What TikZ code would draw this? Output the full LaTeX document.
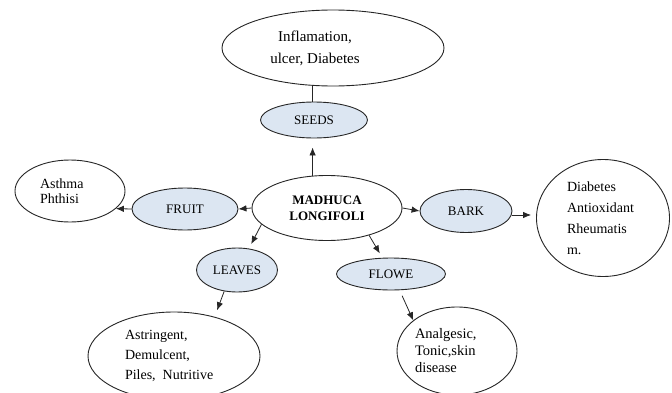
\documentclass[tikz,border=0pt]{standalone}
\usepackage{fontspec}
\setmainfont{Liberation Serif}
\usetikzlibrary{shapes.geometric,arrows.meta}
\definecolor{partblue}{RGB}{220,230,242}
\colorlet{edge}{black!85}
\tikzset{>={Latex[length=8pt,width=6.5pt]}}
\tikzset{
  part/.style = {ellipse, draw=edge, line width=0.9pt, fill=partblue,
    inner sep=0pt, font=\fontsize{13}{15}\selectfont},
  uses/.style = {ellipse, draw=edge, line width=0.9pt, fill=white,
    inner sep=0pt, align=left},
  link/.style = {->, line width=0.8pt, edge}
}

\begin{document}
\begin{tikzpicture}[x=1pt,y=1pt]
  \useasboundingbox (0,0) rectangle (672,392);
  % centre
  \node[uses, align=center, minimum width=150, minimum height=65,
    font=\bfseries\fontsize{13}{16}\selectfont] (madhuca) at (327,184) {MADHUCA\\LONGIFOLI};
  % plant parts
  \node[part, minimum width=107, minimum height=36] (seeds) at (314,272) {SEEDS};
  \node[part, minimum width=92, minimum height=43] (bark) at (466,181) {BARK};
  \node[part, minimum width=106, minimum height=42] (fruit) at (185,183) {FRUIT};
  \node[part, minimum width=81, minimum height=44] (leaves) at (237,122) {LEAVES};
  \node[part, minimum width=109, minimum height=32] (flower) at (391,118) {FLOWE};
  % uses
  \node[uses, minimum width=222, minimum height=76] (infl) at (333,344) {};
  \node[align=center, font=\fontsize{15}{22}\selectfont] (infltext) at (315,344)
    {Inflamation,\\ulcer, Diabetes};
  \node[uses, text width=72, minimum width=133, minimum height=117,
    font=\fontsize{14}{21}\selectfont] (barkuses) at (603,174)
    {Diabetes\\Antioxidant\\Rheumatis\\m.};
  \node[uses, text width=60, minimum width=110, minimum height=62,
    font=\fontsize{14}{15}\selectfont] (asthma) at (70,201) {Asthma\\Phthisi};
  \node[uses, text width=98, minimum width=172, minimum height=88,
    font=\fontsize{14}{20}\selectfont] (leavesuses) at (174,36)
    {Astringent,\\Demulcent,\\Piles,\, Nutritive};
  \node[uses, text width=84, minimum width=120, minimum height=88,
    font=\fontsize{14.5}{17}\selectfont] (floweruses) at (457,41)
    {Analgesic,\\Tonic,skin\\disease};
  % connectors
  \draw[line width=0.8pt, edge] (infl.241) -- (infl.241 |- seeds.north);
  \draw[link, shorten >=9pt] (madhuca.114) -- (madhuca.114 |- seeds.south);
  \draw[link] (madhuca.east) -- (bark.west);
  \draw[link, shorten >=5pt] (bark.-5) -- (bark.-5 -| barkuses.west);
  \draw[link] (madhuca.west) -- (fruit.east);
  \draw[link] (fruit.west) -- (asthma.-21);
  \draw[link, shorten >=5pt] (madhuca.194) -- (leaves.61);
  \draw[link, shorten >=7pt] (leaves.239) -- (leavesuses.44);
  \draw[link, shorten >=5pt] (madhuca.-33) -- (flower.118);
  \draw[link, shorten <=6pt] (flower.-62) -- (floweruses.145);
\end{tikzpicture}
\end{document}
